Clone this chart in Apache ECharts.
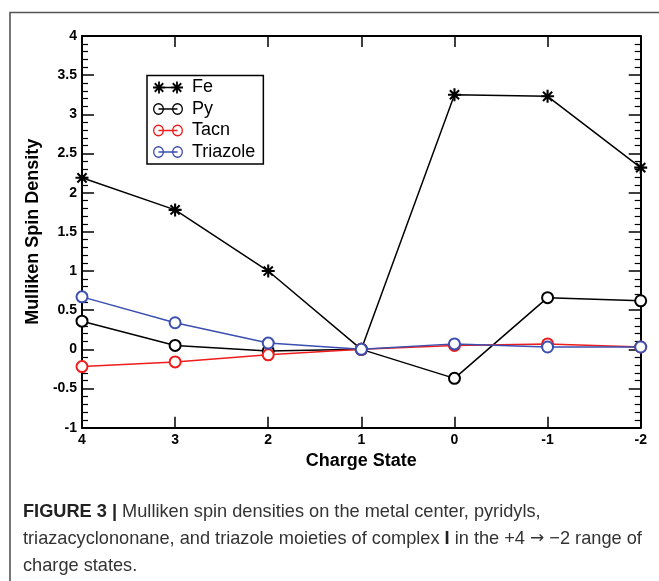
<!DOCTYPE html>
<html>
<head>
<meta charset="utf-8">
<script src="https://cdn.jsdelivr.net/npm/echarts@6/dist/echarts.min.js"></script>
<style>
html,body{margin:0;padding:0;background:#fff;}
#chart{width:659px;height:581px;}
</style>
</head>
<body>
<div id="chart"></div>
<script>
// ---- data ----
var chargeStates = [4, 3, 2, 1, 0, -1, -2];
var seriesNames = ['Fe', 'Py', 'Tacn', 'Triazole'];
var feValues = [2.19, 1.78, 1.00, 0.00, 3.25, 3.23, 2.32];
var pyValues = [0.36, 0.05, -0.02, 0.00, -0.37, 0.66, 0.62];
var tacnValues = [-0.22, -0.16, -0.07, 0.00, 0.05, 0.07, 0.03];
var triazoleValues = [0.67, 0.34, 0.08, 0.00, 0.07, 0.03, 0.03];
var xAxisTitle = 'Charge State';
var yAxisTitle = 'Mulliken Spin Density';
var captionLines = [
  '{b|FIGURE 3 |} Mulliken spin densities on the metal center, pyridyls,',
  'triazacyclononane, and triazole moieties of complex {b|I} in the +4 {a|\u2192} \u22122 range of',
  'charge states.'
];

// ---- symbol helpers (styling only) ----
function starPath(cx, cy, r, t) {
  var d = r * Math.SQRT1_2, o = t * Math.SQRT1_2;
  function poly(p) { return 'M' + p.map(function (q) { return q[0].toFixed(2) + ' ' + q[1].toFixed(2); }).join(' L') + ' Z '; }
  var s = '';
  s += poly([[cx - r, cy - t], [cx + r, cy - t], [cx + r, cy + t], [cx - r, cy + t]]);
  s += poly([[cx - t, cy - r], [cx + t, cy - r], [cx + t, cy + r], [cx - t, cy + r]]);
  s += poly([[cx - d + o, cy - d - o], [cx + d + o, cy + d - o], [cx + d - o, cy + d + o], [cx - d - o, cy - d + o]]);
  s += poly([[cx + d + o, cy - d + o], [cx - d + o, cy + d + o], [cx - d - o, cy + d - o], [cx + d - o, cy - d - o]]);
  return s;
}
function ringPath(cx, cy, ro, ri) {
  return 'M' + (cx - ro) + ' ' + cy + ' A' + ro + ' ' + ro + ' 0 1 1 ' + (cx + ro) + ' ' + cy +
    ' A' + ro + ' ' + ro + ' 0 1 1 ' + (cx - ro) + ' ' + cy + ' Z ' +
    'M' + (cx - ri) + ' ' + cy + ' A' + ri + ' ' + ri + ' 0 1 0 ' + (cx + ri) + ' ' + cy +
    ' A' + ri + ' ' + ri + ' 0 1 0 ' + (cx - ri) + ' ' + cy + ' Z ';
}
function rectPath(x0, y0, x1, y1) {
  return 'M' + x0 + ' ' + y0 + ' L' + x1 + ' ' + y0 + ' L' + x1 + ' ' + y1 + ' L' + x0 + ' ' + y1 + ' Z ';
}
var starSymbol = 'path://' + starPath(10, 10, 10, 1.6);
var legendStar = 'path://' + starPath(6, 6, 6, 0.9) + starPath(24, 6, 6, 0.9) + rectPath(6, 5.3, 24, 6.7);
var legendRing = 'path://' + ringPath(5.5, 6, 5.5, 4.2) + ringPath(24.5, 6, 5.5, 4.2) + rectPath(5.5, 5.3, 24.5, 6.7);

var FONT = '"Liberation Sans", Arial, Helvetica, sans-serif';
var colors = ['#000000', '#000000', '#ee1c1c', '#3a4fb0'];
var valueLists = [feValues, pyValues, tacnValues, triazoleValues];

function zip(vals) { return chargeStates.map(function (c, i) { return [c, vals[i]]; }); }

var series = seriesNames.map(function (name, k) {
  return {
    name: name,
    type: 'line',
    xAxisIndex: 0,
    yAxisIndex: 0,
    data: zip(valueLists[k]),
    symbol: k === 0 ? starSymbol : 'emptyCircle',
    symbolSize: k === 0 ? 13 : 11,
    showAllSymbol: true,
    lineStyle: { color: colors[k], width: 1.5 },
    itemStyle: { color: colors[k], borderColor: colors[k], borderWidth: k === 0 ? 0 : 1.5 },
    emphasis: { disabled: true },
    animation: false,
    z: 2 + k
  };
});

function xAx(pos, showLabel) {
  return {
    type: 'value', position: pos, min: -2, max: 4, interval: 1, inverse: true,
    axisLine: { show: true, onZero: false, lineStyle: { color: '#000', width: 2 } },
    axisTick: { show: true, inside: true, length: 11, lineStyle: { color: '#000', width: 1.5 } },
    minorTick: { show: false },
    splitLine: { show: false },
    axisLabel: { show: showLabel, color: '#000', fontSize: 14, fontWeight: 'bold', fontFamily: FONT, margin: 5 },
    name: showLabel ? xAxisTitle : '',
    nameLocation: 'middle', nameGap: 24,
    nameTextStyle: { color: '#000', fontSize: 18, fontWeight: 'bold', fontFamily: FONT }
  };
}
function yAx(pos, showLabel) {
  return {
    type: 'value', position: pos, min: -1, max: 4, interval: 0.5,
    axisLine: { show: true, onZero: false, lineStyle: { color: '#000', width: 2 } },
    axisTick: { show: true, inside: true, length: 12, lineStyle: { color: '#000', width: 1.5 } },
    minorTick: { show: true, splitNumber: 5, length: 6, lineStyle: { color: '#000', width: 1.2 } },
    splitLine: { show: false },
    axisLabel: { show: showLabel, color: '#000', fontSize: 14, fontWeight: 'bold', fontFamily: FONT, margin: 5 },
    name: showLabel ? yAxisTitle : '',
    nameLocation: 'middle', nameGap: 35,
    nameTextStyle: { color: '#000', fontSize: 18, fontWeight: 'bold', fontFamily: FONT }
  };
}

var chart = echarts.init(document.getElementById('chart'), null, { renderer: 'canvas' });
chart.setOption({
  backgroundColor: '#ffffff',
  animation: false,
  grid: { left: 82, right: 18.3, top: 36, bottom: 153.3, containLabel: false },
  xAxis: [xAx('bottom', true), xAx('top', false)],
  yAxis: [yAx('left', true), yAx('right', false)],
  legend: {
    orient: 'vertical', left: 147, top: 75.5,
    data: seriesNames.map(function (n, k) { return { name: n, icon: k === 0 ? legendStar : legendRing }; }),
    itemWidth: 30, itemHeight: 12, itemGap: 3.5,
    symbolKeepAspect: false,
    padding: [3, 8, 3, 6],
    borderColor: '#000', borderWidth: 1.5, backgroundColor: '#fff',
    itemStyle: { borderWidth: 0 },
    textStyle: { color: '#000', fontSize: 18, fontFamily: FONT, padding: [0, 0, 0, 4] },
    selectedMode: false
  },
  graphic: [
    {
      type: 'polyline', silent: true,
      shape: { points: [[10, 581], [10, 12.5], [659, 12.5]] },
      style: { stroke: '#555', lineWidth: 1.6, fill: null }
    }
  ].concat(captionLines.map(function (line, i) {
    return {
      type: 'text', silent: true, left: 23, top: 503 + i * 27,
      style: {
        text: line, fill: '#333', font: '18.2px ' + FONT,
        rich: {
          b: { fontWeight: 'bold', fontSize: 18.2, fontFamily: FONT, fill: '#222' },
          a: { fontSize: 17, fontFamily: '"DejaVu Sans", sans-serif', fill: '#333' }
        }
      }
    };
  })),
  series: series
});
</script>
</body>
</html>
